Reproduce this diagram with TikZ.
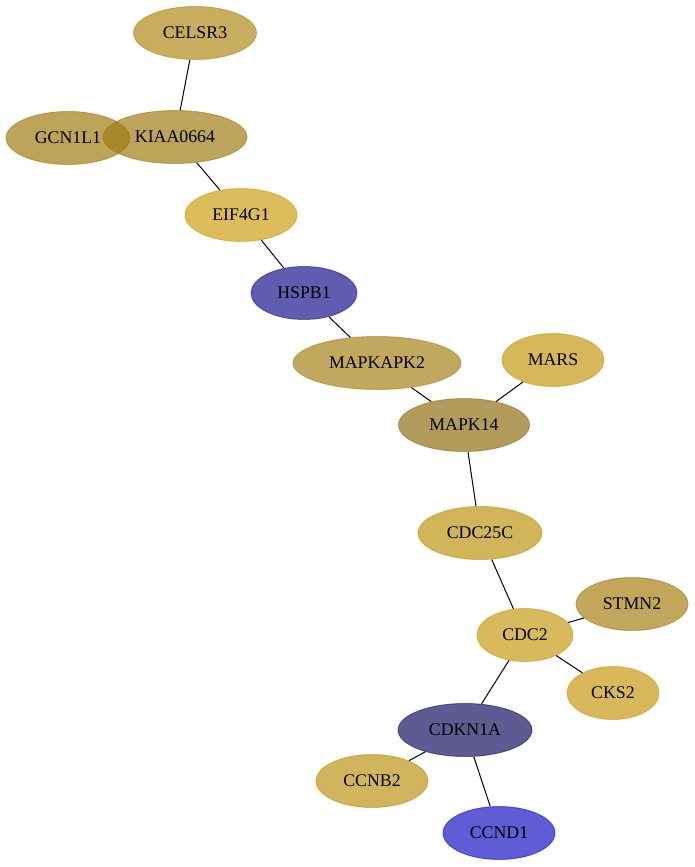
\documentclass[tikz,border=0pt]{standalone}
\usepackage{fontspec}
\setmainfont{Liberation Serif}
\usetikzlibrary{shapes.geometric}
\definecolor{cCELSR}{RGB}{175,138,24}
\definecolor{cGCN}{RGB}{162,125,19}
\definecolor{cKIAA}{RGB}{159,125,22}
\definecolor{cEIF}{RGB}{205,159,22}
\definecolor{cHSPB}{RGB}{29,24,142}
\definecolor{cMAPKAPK}{RGB}{166,131,25}
\definecolor{cMARS}{RGB}{198,152,19}
\definecolor{cMAPK}{RGB}{145,114,22}
\definecolor{cCDCC}{RGB}{191,148,22}
\definecolor{cSTMN}{RGB}{168,128,22}
\definecolor{cCDC}{RGB}{199,155,22}
\definecolor{cCKS}{RGB}{199,154,22}
\definecolor{cCDKN}{RGB}{24,22,98}
\definecolor{cCCNB}{RGB}{189,148,22}
\definecolor{cCCND}{RGB}{26,24,195}
\tikzset{
  gene/.style={ellipse, inner sep=0pt, minimum height=53pt, fill opacity=0.7, draw opacity=0.6,
    text opacity=1, line width=0.9pt, font=\fontsize{17.8}{20}\selectfont},
  gcol/.style={fill=#1, draw=#1},
  link/.style={draw=black, line width=1pt}
}
\begin{document}
\begin{tikzpicture}[x=1pt,y=-1pt]
\useasboundingbox (0,0) rectangle (695,867);
\node[gene, gcol=cCELSR, minimum width=123pt] (celsr) at (195,33) {CELSR3};
\node[gene, gcol=cGCN, minimum width=124pt] (gcn) at (68,138) {GCN1L1};
\node[gene, gcol=cKIAA, minimum width=144pt] (kiaa) at (175,137) {KIAA0664};
\node[gene, gcol=cEIF, minimum width=112pt] (eif) at (241,215) {EIF4G1};
\node[gene, gcol=cHSPB, minimum width=106pt] (hspb) at (304,293) {HSPB1};
\node[gene, gcol=cMAPKAPK, minimum width=168pt] (mapkapk) at (377,363) {MAPKAPK2};
\node[gene, gcol=cMARS, minimum width=102pt] (mars) at (553,360) {MARS};
\node[gene, gcol=cMAPK, minimum width=131pt] (mapk) at (464,425) {MAPK14};
\node[gene, gcol=cCDCC, minimum width=124pt] (cdcc) at (480,533) {CDC25C};
\node[gene, gcol=cSTMN, minimum width=112pt] (stmn) at (632,604) {STMN2};
\node[gene, gcol=cCDC, minimum width=96pt] (cdc) at (525,635) {CDC2};
\node[gene, gcol=cCKS, minimum width=92pt] (cks) at (613,693) {CKS2};
\node[gene, gcol=cCDKN, minimum width=134pt] (cdkn) at (465,730) {CDKN1A};
\node[gene, gcol=cCCNB, minimum width=112pt] (ccnb) at (372,781) {CCNB2};
\node[gene, gcol=cCCND, minimum width=112pt] (ccnd) at (499,833) {CCND1};
\draw[link] (celsr) -- (kiaa);
\draw[link] (kiaa) -- (eif);
\draw[link] (eif) -- (hspb);
\draw[link] (hspb) -- (mapkapk);
\draw[link] (mapkapk) -- (mapk);
\draw[link] (mars) -- (mapk);
\draw[link] (mapk) -- (cdcc);
\draw[link] (cdcc) -- (cdc);
\draw[link] (stmn) -- (cdc);
\draw[link] (cdc) -- (cks);
\draw[link] (cdc) -- (cdkn);
\draw[link] (cdkn) -- (ccnb);
\draw[link] (cdkn) -- (ccnd);
\end{tikzpicture}
\end{document}
